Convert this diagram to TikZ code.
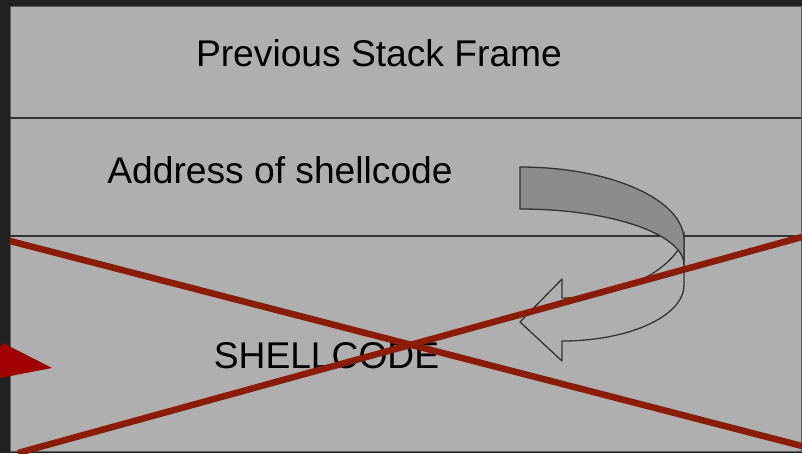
\documentclass[tikz,border=0pt]{standalone}
\usepackage{fontspec}
\setmainfont{Liberation Sans}
\definecolor{darkbg}{HTML}{212121}
\definecolor{boxgray}{HTML}{AFAFAF}
\definecolor{bandgray}{HTML}{8C8C8C}
\definecolor{edge}{HTML}{333333}
\definecolor{xred}{RGB}{140,28,10}
\definecolor{trired}{HTML}{A00000}
\begin{document}
\begin{tikzpicture}[x=1pt,y=-1pt,
  label/.style={font=\fontsize{37.2}{42}\selectfont, text=black, inner sep=0pt, anchor=base},
  divider/.style={draw=edge, line width=1.5pt},
  outline/.style={draw=edge, line width=1.3pt, line join=round},
  cross/.style={draw=xred, line width=6.5pt}]
\useasboundingbox (0,0) rectangle (802,453);
\fill[darkbg] (0,0) rectangle (802,453);
\filldraw[fill=boxgray, draw=edge!80, line width=1pt] (10,6) rectangle (801,451.5);
% dividers
\coordinate (d1l) at (10,118); \coordinate (d1r) at (801,118);
\coordinate (d2l) at (10,236); \coordinate (d2r) at (801,236);
\draw[divider] (d1l) -- (d1r);
\draw[divider] (d2l) -- (d2r);
% texts
\node[label] (prev) at (379,66) {Previous Stack Frame};
\node[label] (addr) at (280,183) {Address of shellcode};
\node[label] (shell) at (326.5,368) {SHELLCODE};
% curved arrow: back part
\filldraw[outline, fill=boxgray] (684,232) -- (684,285)
  .. controls (684,316) and (629.4,341) .. (562,341)
  -- (562,361) -- (520,322) -- (562,279) -- (562,298)
  .. controls (629.4,298) and (684,261.5) .. (684,232) -- cycle;
% curved arrow: front band
\filldraw[outline, fill=bandgray] (520,167)
  .. controls (610.6,167) and (684,199.7) .. (684,240)
  -- (684,265)
  .. controls (684,234) and (610.6,209) .. (520,209) -- cycle;
% red triangle
\fill[trired] (3,343) -- (52,368) -- (0,378) -- (0,347) -- cycle;
% red cross
\coordinate (c1a) at (10,241); \coordinate (c1b) at (802,446);
\coordinate (c2a) at (18,453); \coordinate (c2b) at (802,237);
\draw[cross] (c1a) -- (c1b);
\draw[cross] (c2a) -- (c2b);
\end{tikzpicture}
\end{document}
